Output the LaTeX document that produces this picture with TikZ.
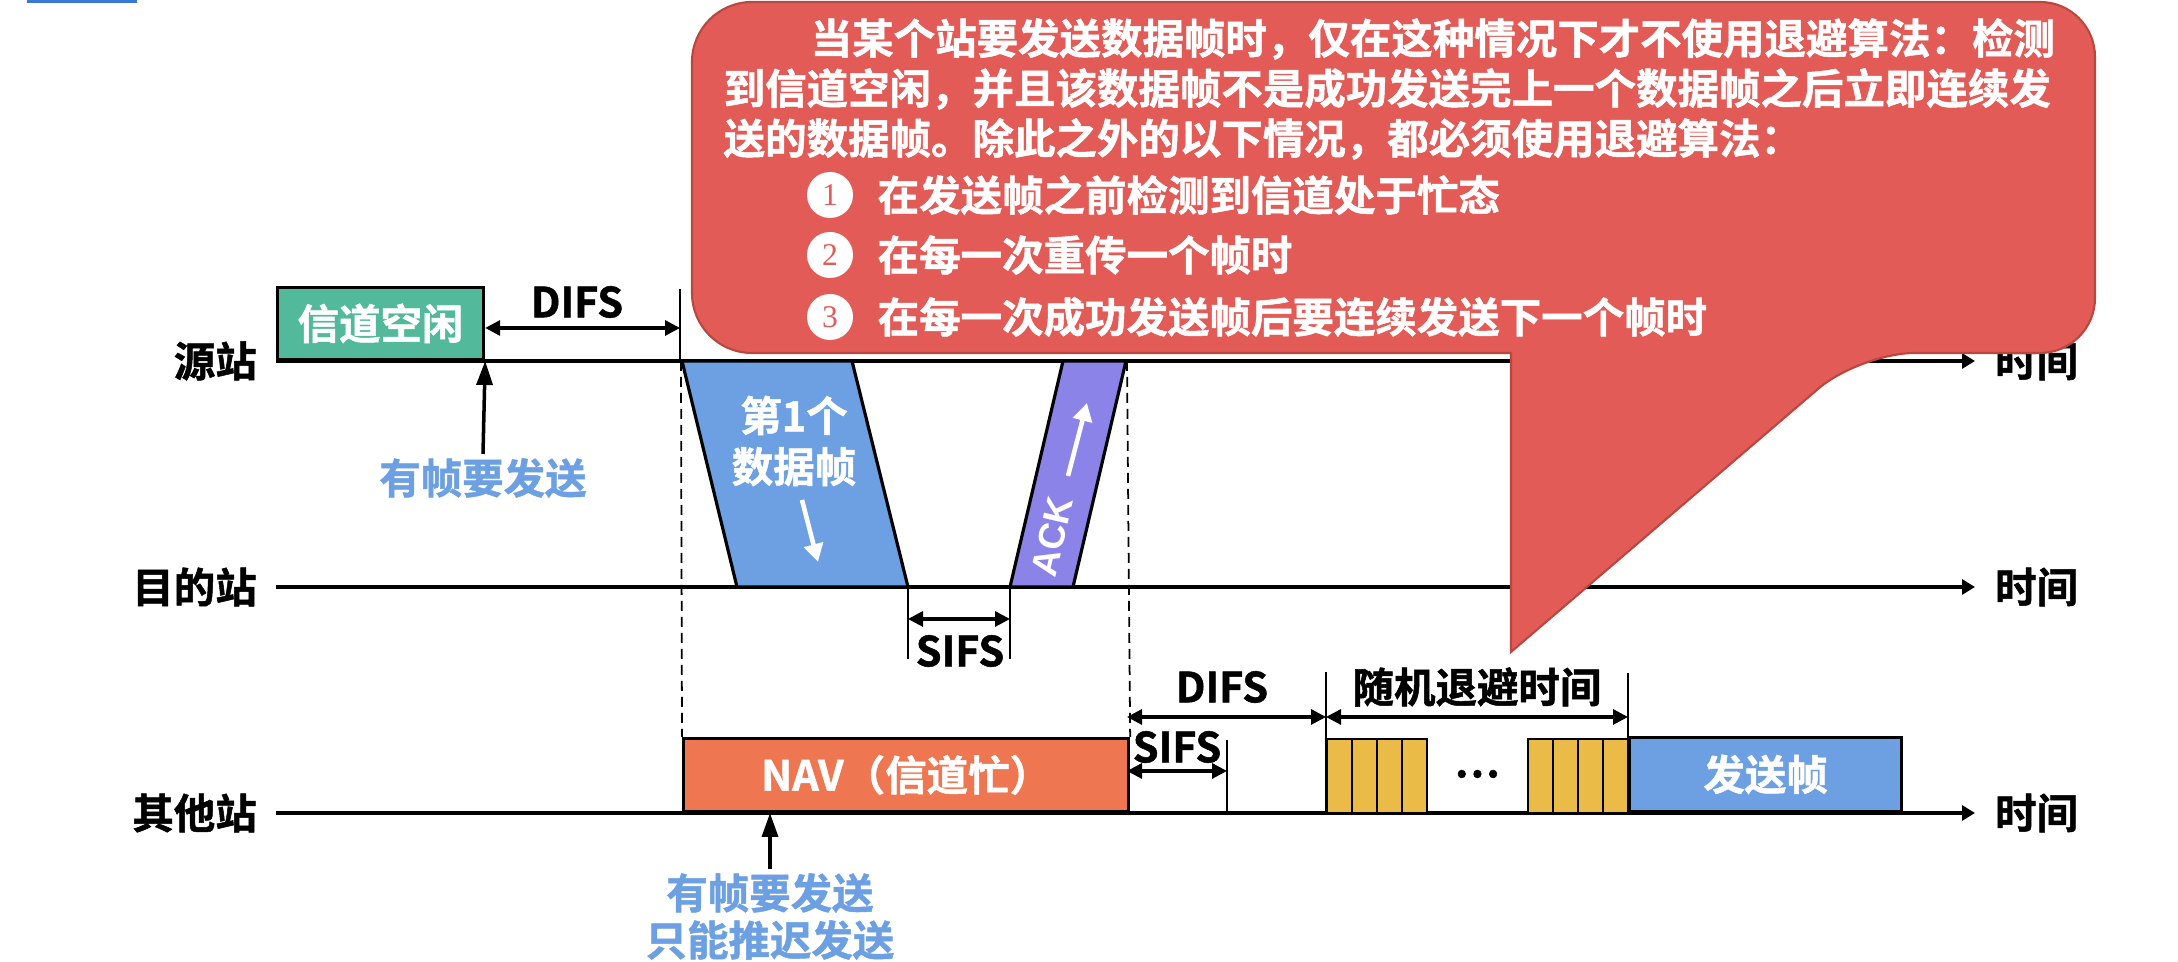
\documentclass[tikz,border=0pt]{standalone}
\usepackage{fontspec}
\setmainfont{Noto Sans CJK SC}[BoldFont={Noto Sans CJK SC Bold}, BoldFeatures={FakeBold=1.2}]
\newfontfamily\numfont{Liberation Serif}
\newfontfamily\latinfont{Liberation Sans}
\usetikzlibrary{arrows.meta,positioning}

\definecolor{idlegreen}{HTML}{52B99A}
\definecolor{frameblue}{HTML}{6CA0E3}
\definecolor{ackpurple}{HTML}{8B83E8}
\definecolor{navorange}{HTML}{EE7651}
\definecolor{slotyellow}{HTML}{EBBB47}
\definecolor{notered}{HTML}{E35B56}
\definecolor{noteedge}{HTML}{B8473F}
\definecolor{linkblue}{HTML}{3A78D8}

\tikzset{
  lbl/.style={font=\fontsize{11.8}{14}\selectfont\bfseries, inner sep=1pt},
  wlbl/.style={lbl, text=white},
  blbl/.style={lbl, text=frameblue, align=center},
  axis/.style={line width=0.9pt, -{Triangle[length=1.3mm,width=1.5mm]}},
  box/.style={draw=black, line width=0.9pt},
  tick/.style={line width=0.5pt},
  guide/.style={line width=0.5pt, dash pattern=on 1mm off 0.6mm},
  span/.style={line width=0.9pt, {Triangle[length=1.5mm,width=1.5mm]}-{Triangle[length=1.5mm,width=1.5mm]}},
  push/.style={line width=1pt, -{Triangle[length=2.4mm,width=1.6mm]}},
  flow/.style={white, line width=1.3pt, -{Triangle[length=1.8mm,width=1.9mm]}},
  note/.style={fill=notered, draw=noteedge, line width=0.6pt},
  numdot/.style={circle, fill=white, minimum size=0.46cm, inner sep=0pt, text=notered, font=\numfont\fontsize{9}{9}\selectfont},
}

\begin{document}
\begin{tikzpicture}
\useasboundingbox (0,0) rectangle (21.78,9.62);
\fill[linkblue] (0.27,9.59) rectangle (1.37,9.62);

% time axes of the three stations
\foreach \n/\y/\t in {src/6.01/源站, dst/3.75/目的站, oth/1.49/其他站}{
  \coordinate (\n0) at (2.76,\y);
  \coordinate (\n1) at (19.75,\y);
  \node[lbl, left=0.15cm of \n0] (\n-name) {\t};
  \draw[axis] (\n0) -- (\n1) node[lbl, right=0.15cm] (\n-time) {时间};
}

% source station
\node[box, wlbl, fill=idlegreen, anchor=south west, minimum width=2.06cm, minimum height=0.72cm] (idle) at (src0) {信道空闲};
\coordinate (difsA) at (6.80,6.73);
\node[lbl] (difs1) at (5.77,6.60) {DIFS};
\draw[tick] (difsA) -- (difsA |- src0);
\draw[span] (idle.east |- 0,6.34) -- (difsA |- 0,6.34);
\node[blbl] (want1) at (4.83,4.84) {有帧要发送};
\draw[push] (want1.north) -- (idle.south east);

% data frame and ACK
\filldraw[box, fill=frameblue] (6.82,6.01) -- (8.52,6.01) -- (9.08,3.75) -- (7.37,3.75) -- cycle;
\node[wlbl, align=center, font=\fontsize{11.8}{14.5}\selectfont\bfseries] (data) at (7.94,5.21) {第1个\\数据帧};
\coordinate (dA) at (8.02,4.62);
\coordinate (dB) at (8.18,4.00);
\draw[flow] (dA) -- (dB);

\filldraw[box, fill=ackpurple] (10.63,6.01) -- (11.26,6.01) -- (10.73,3.75) -- (10.10,3.75) -- cycle;
\node[wlbl, rotate=76.8, inner sep=0pt, font=\latinfont\fontsize{10.5}{12}\selectfont\bfseries] (ack) at (10.52,4.25) {ACK};
\coordinate (aA) at (10.68,4.86);
\coordinate (aB) at (10.87,5.59);
\draw[flow] (aA) -- (aB);

% SIFS at the destination
\coordinate (s1) at (9.08,3.75);
\coordinate (s2) at (10.10,3.75);
\draw[tick] (s1) -- ++(0,-0.72);
\draw[tick] (s2) -- ++(0,-0.72);
\draw[span] ([yshift=-0.32cm]s1) -- ([yshift=-0.32cm]s2);
\node[lbl] (sifs1) at (9.60,3.11) {SIFS};

% other stations
\node[box, wlbl, fill=navorange, anchor=south west, minimum width=4.45cm, minimum height=0.73cm] (nav) at (6.82,1.49) {NAV（信道忙）};
\draw[guide] (6.81,6.01) -- (nav.north west);
\draw[guide] (11.27,6.01) -- (nav.north east);
\node[blbl, font=\fontsize{11.8}{13.4}\selectfont\bfseries] (want2) at (7.70,0.455) {有帧要发送\\只能推迟发送};
\draw[push] (want2.north) -- (want2 |- nav.south);

\coordinate (b0) at (11.27,2.45);
\coordinate (b1) at (13.26,2.45);
\coordinate (b2) at (16.28,2.45);
\draw[tick] (13.26,2.90) -- (13.26,1.49);
\draw[tick] (16.28,2.89) -- (16.28,1.49);
\draw[span] (b0) -- (b1);
\draw[span] (b1) -- (b2);
\node[lbl] (difs2) at (12.22,2.75) {DIFS};
\node[lbl] (backoff) at (14.77,2.75) {随机退避时间};

\coordinate (c0) at (11.27,1.91);
\coordinate (c1) at (12.27,1.91);
\draw[tick] (12.27,2.22) -- (12.27,1.49);
\draw[span] (c0) -- (c1);
\node[lbl] (sifs2) at (11.77,2.15) {SIFS};

\foreach \x in {13.27,13.52,13.77,14.02,15.28,15.53,15.78,16.03}
  \draw[draw=black, line width=0.6pt, fill=slotyellow] (\x,1.49) rectangle ++(0.25,0.74);
\node[lbl] (dots) at (14.77,1.88) {…};
\node[box, wlbl, fill=frameblue, anchor=south west, minimum width=2.72cm, minimum height=0.74cm] (send) at (16.28,1.49) {发送帧};

% callout
\draw[note] (13,9.60) [rounded corners=0.55cm] -- (20.95,9.60) -- (20.95,6.09) -- (18.60,6.09)
  [sharp corners] -- (15.11,3.10) -- (15.11,6.09) -- (14.5,6.09)
  [rounded corners=0.6cm] -- (6.92,6.09) -- (6.92,9.60) -- cycle;
\node[wlbl, anchor=west, inner sep=0pt] (rule1) at (8.10,9.23) {当某个站要发送数据帧时，仅在这种情况下才不使用退避算法：检测};
\node[wlbl, anchor=west, inner sep=0pt] (rule2) at (7.23,8.73) {到信道空闲，并且该数据帧不是成功发送完上一个数据帧之后立即连续发};
\node[wlbl, anchor=west, inner sep=0pt] (rule3) at (7.23,8.23) {送的数据帧。除此之外的以下情况，都必须使用退避算法：};
\foreach \k/\y/\t in {1/7.67/在发送帧之前检测到信道处于忙态, 2/7.07/在每一次重传一个帧时, 3/6.45/在每一次成功发送帧后要连续发送下一个帧时}{
  \node[numdot] (num\k) at (8.30,\y) {\k};
  \node[wlbl, anchor=west, inner sep=0pt] (item\k) at (8.77,\y) {\t};
}
\end{tikzpicture}
\end{document}
